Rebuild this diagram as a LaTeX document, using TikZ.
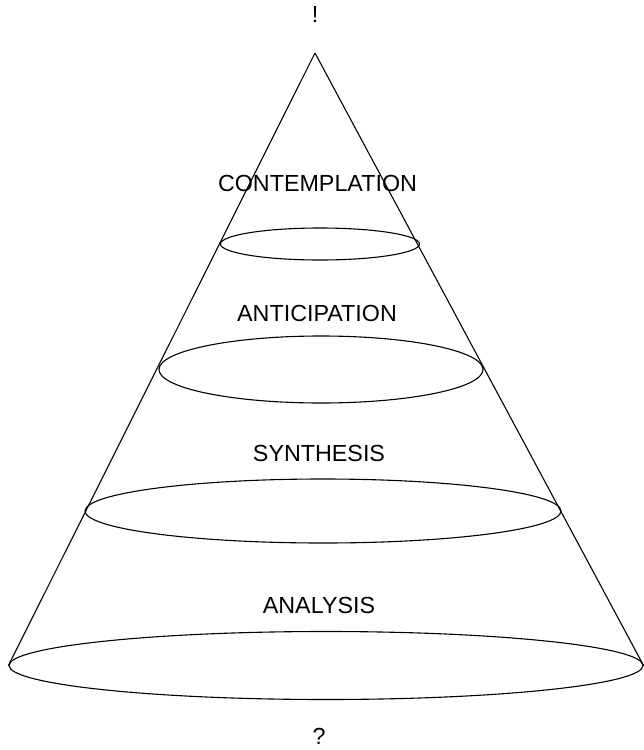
\documentclass[tikz,border=0pt]{standalone}
\usepackage{fontspec}
\setmainfont{Liberation Sans}
\usetikzlibrary{shapes.geometric}
\begin{document}
\begin{tikzpicture}[x=1pt,y=-1pt,line width=1.1pt,
  stage/.style={font=\fontsize{23.3}{27}\selectfont,inner sep=1pt},
  ring/.style={draw,ellipse,inner sep=0pt}]
  \useasboundingbox (0,0) rectangle (644,750);
  \coordinate (apex) at (315,53);
  \node[stage] (bang) at (315,14) {!};
  \node[stage] (contemplation) at (317.5,183) {CONTEMPLATION};
  \node[stage] (anticipation)  at (317,313)   {ANTICIPATION};
  \node[stage] (synthesis)     at (319,453)   {SYNTHESIS};
  \node[stage] (analysis)      at (319,605.5) {ANALYSIS};
  \node[stage] (quest) at (319,736) {?};
  \node[ring,minimum width=199pt,minimum height=32pt] (r1) at (320,244) {};
  \node[ring,minimum width=324pt,minimum height=67pt] (r2) at (321,369.5) {};
  \node[ring,minimum width=476pt,minimum height=64pt] (r3) at (323,511) {};
  \node[ring,minimum width=634pt,minimum height=68pt] (r4) at (326,665.5) {};
  \draw (apex) -- (r4.west);
  \draw (apex) -- (r4.east);
\end{tikzpicture}
\end{document}
